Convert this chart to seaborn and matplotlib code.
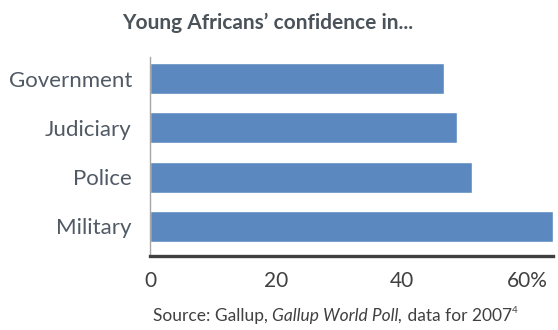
import matplotlib
matplotlib.use("Agg")
import matplotlib.pyplot as plt
import seaborn as sns
import pandas as pd

# data
categories = ["Government", "Judiciary", "Police", "Military"]
confidence = [46.7, 48.7, 51.1, 64.0]
tick_values = [0, 20, 40, 60]
tick_labels = ["0", "20", "40", "60%"]

df = pd.DataFrame({"Institution": categories, "Confidence": confidence})

sns.set_style("white")
plt.rcParams["font.family"] = ["Lato", "DejaVu Sans"]

fig = plt.figure(figsize=(5.58, 3.30), dpi=100)
ax = fig.add_axes([150 / 558, 1 - 256 / 330, 403 / 558, 199 / 330])

sns.barplot(data=df, x="Confidence", y="Institution", orient="h",
            color="#5b89bf", saturation=1, width=0.63, ax=ax)

ax.set_xlim(0, 64)
ax.set_ylim(3.6, -0.44)
ax.set_xticks(tick_values)
ax.set_xticklabels(tick_labels)
ax.set_xlabel("")
ax.set_ylabel("")
ax.tick_params(axis="x", length=0, pad=11, labelsize=15, labelcolor="#404040")
ax.tick_params(axis="y", length=0, pad=13, labelsize=16, labelcolor="#505a64")

for side in ["top", "right"]:
    ax.spines[side].set_visible(False)
ax.spines["bottom"].set_color("#404040")
ax.spines["bottom"].set_linewidth(2.4)
ax.spines["left"].set_color("#a6a6a6")
ax.spines["left"].set_linewidth(1.0)

fig.text(0.479, 0.93, "Young Africans\u2019 confidence in...", ha="center", va="center",
         fontsize=15, fontweight="bold", color="#4a525a")

# source line with an italic part and a superscript
fig.canvas.draw()
renderer = fig.canvas.get_renderer()
x = 153 / 558
y = 1 - 316 / 330
pieces = [("Source: Gallup, ", "normal", 12.5, 0), ("Gallup World Poll,", "italic", 12.5, 0),
          (" data for 2007", "normal", 12.5, 0), ("4", "normal", 7, 0.018)]
for txt, style, size, dy in pieces:
    t = fig.text(x, y + dy, txt, ha="left", va="center", fontsize=size,
                 fontstyle=style, color="#404040")
    bb = t.get_window_extent(renderer=renderer)
    x += bb.width / fig.bbox.width

fig.savefig("out.png", dpi=100)
